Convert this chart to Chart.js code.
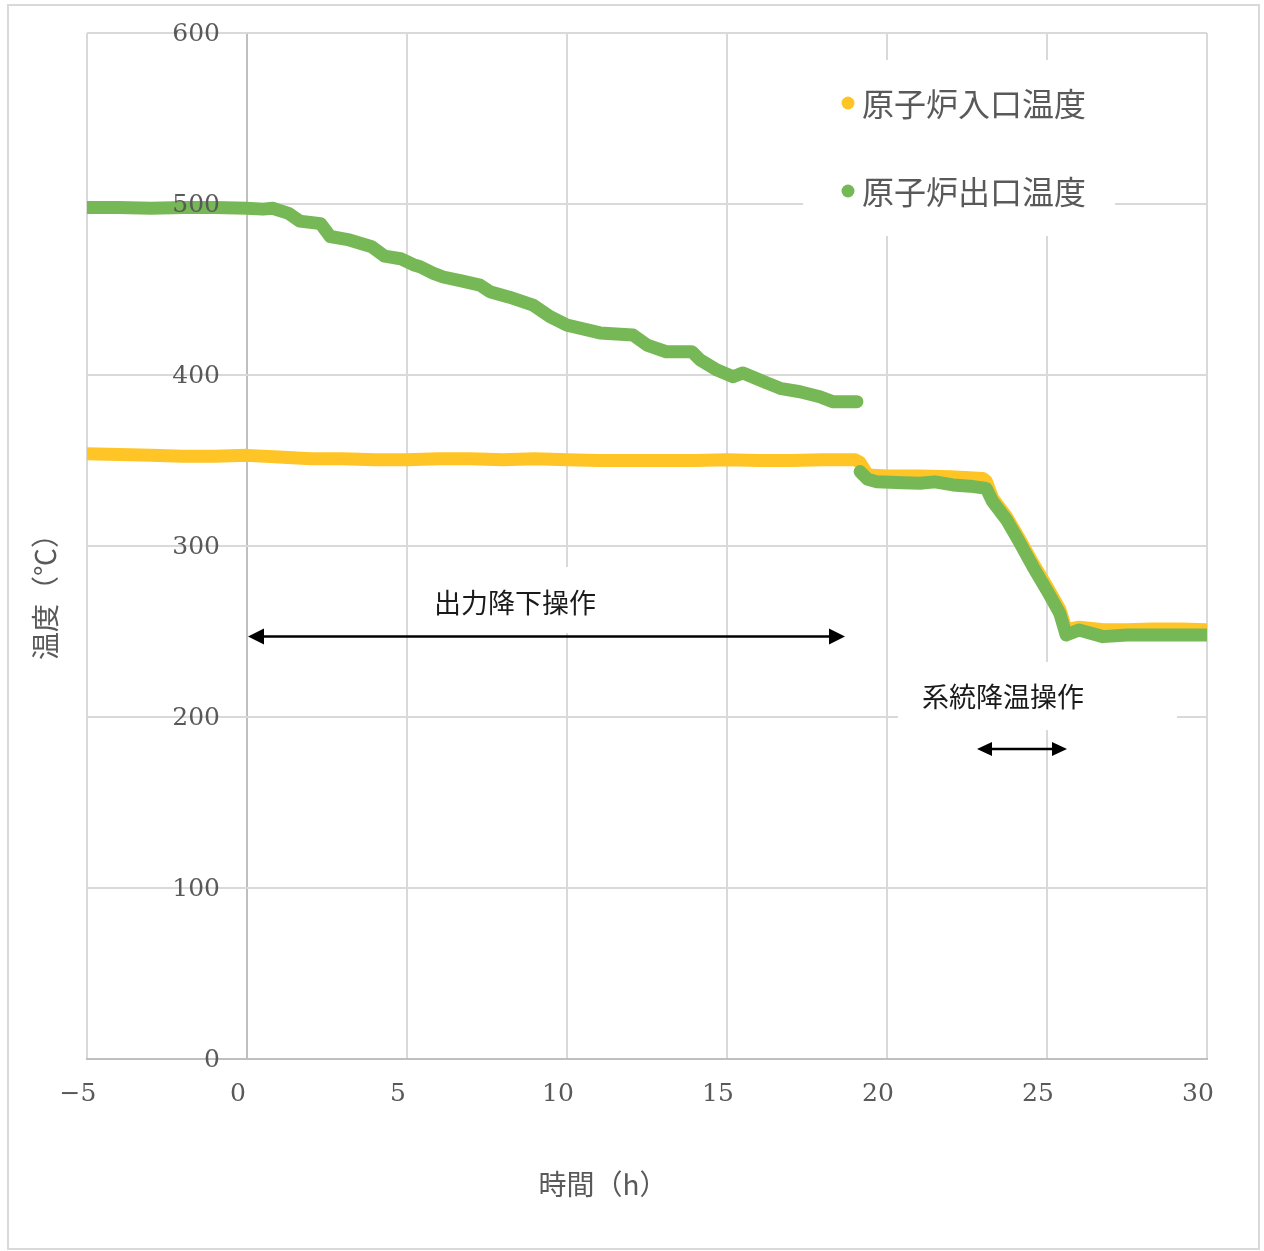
<!DOCTYPE html>
<html>
<head>
<meta charset="utf-8">
<script src="https://cdn.jsdelivr.net/npm/chart.js@4/dist/chart.umd.min.js"></script>
<style>
  html, body { margin: 0; padding: 0; background: #ffffff; }
  #wrap { width: 1264px; height: 1251px; position: relative; }
</style>
</head>
<body>
<div id="wrap"><canvas id="c" width="1264" height="1251"></canvas></div>
<script>
// ---- data ----
const seriesNames = ['原子炉入口温度', '原子炉出口温度'];

const inletTimes = [-5, -4, -3, -2, -1, 0, 1, 2, 3, 4, 5, 6, 7, 8, 9, 10, 11, 12, 13, 14, 15, 16, 17, 18, 19, 19.15, 19.4, 20, 21, 22, 23, 23.1, 23.3, 23.74, 24.16, 24.56, 24.99, 25.4, 25.6, 26, 26.75, 27.5, 28.3, 29.2, 30];
const inletTemps = [354, 353.5, 353, 352.5, 352.5, 353, 352, 351, 351, 350.5, 350.5, 351, 351, 350.5, 351, 350.5, 350, 350, 350, 350, 350.5, 350, 350, 350.5, 350.5, 349, 341.5, 341, 341, 340.5, 339.5, 338, 328, 317, 303.5, 290, 276.5, 263, 251, 252.5, 251, 251, 251.5, 251.5, 251];

const outletTimes = [-5, -4, -3, -2, -1, 0, 0.5, 0.8, 1.3, 1.65, 2.3, 2.6, 3.2, 3.9, 4.3, 4.8, 5.2, 5.41, 5.81, 6.13, 6.7, 7.28, 7.59, 8.2, 8.94, 9.47, 10.0, 10.5, 11.03, 12.06, 12.5, 13.1, 13.9, 14.16, 14.69, 15.19, 15.5, 16.25, 16.7, 17.28, 17.9, 18.3, 19.06, 19.1, 19.16, 19.4, 19.68, 20.5, 21.03, 21.5, 22.06, 22.6, 23.1, 23.3, 23.74, 24.16, 24.56, 24.99, 25.4, 25.6, 26.0, 26.75, 27.5, 28.3, 29.2, 30.0];
const outletTemps = [498, 498, 497.5, 498, 498, 497.5, 497, 497.5, 494.5, 490, 488.5, 481, 479, 475, 469.5, 468, 464.5, 463.3, 459.6, 457.3, 455, 452.6, 448.7, 445.5, 440.9, 434.1, 429.2, 427, 424.6, 423.4, 417.5, 413.6, 413.6, 408.8, 402.9, 399, 401.2, 395.3, 392, 390.2, 387.3, 384.4, 384.4, null, 343.5, 339, 337.6, 337, 336.7, 337.5, 335.7, 335, 333.7, 326, 315.2, 301.6, 287.9, 274.3, 260.6, 247.9, 250.9, 247, 248, 248, 248, 248];

const xTickValues = [-5, 0, 5, 10, 15, 20, 25, 30];
const xTickLabels = ['−5', '0', '5', '10', '15', '20', '25', '30'];
const yTickValues = [0, 100, 200, 300, 400, 500, 600];
const yTickLabels = ['0', '100', '200', '300', '400', '500', '600'];

const xAxisTitle = '時間（h）';
const yAxisTitle = '温度（℃）';
const annotation1 = '出力降下操作';
const annotation2 = '系統降温操作';

const inletColor = '#FFC425';
const outletColor = '#77B856';

function toPoints(xs, ys) {
  return xs.map((x, i) => ({ x: x, y: ys[i] }));
}

const NUM_FONT = '25px "DejaVu Serif", "Liberation Serif", serif';
const JP = '"Noto Sans CJK JP", "Noto Sans", sans-serif';

function arrowHead(ctx, x, y, dir, len, half) {
  ctx.beginPath();
  ctx.moveTo(x, y);
  ctx.lineTo(x - dir * len, y - half);
  ctx.lineTo(x - dir * len, y + half);
  ctx.closePath();
  ctx.fill();
}
function doubleArrow(ctx, x1, x2, y, len, half, lw) {
  ctx.save();
  ctx.strokeStyle = '#000';
  ctx.fillStyle = '#000';
  ctx.lineWidth = lw;
  ctx.beginPath();
  ctx.moveTo(x1 + len - 1, y);
  ctx.lineTo(x2 - len + 1, y);
  ctx.stroke();
  arrowHead(ctx, x1, y, -1, len, half);
  arrowHead(ctx, x2, y, 1, len, half);
  ctx.restore();
}

const decor = {
  id: 'decor',
  beforeDraw(chart) {
    const ctx = chart.ctx;
    ctx.save();
    ctx.fillStyle = '#ffffff';
    ctx.fillRect(0, 0, chart.width, chart.height);
    ctx.strokeStyle = '#d9d9d9';
    ctx.lineWidth = 2;
    ctx.strokeRect(8, 5, 1251, 1244);
    ctx.restore();
  },
  beforeDatasetsDraw(chart) {
    const ctx = chart.ctx;
    const xs = chart.scales.x;
    ctx.save();
    ctx.fillStyle = '#ffffff';
    // legend box
    ctx.fillRect(803, 60, 312, 176);
    // annotation text boxes
    ctx.fillRect(xs.getPixelForValue(5) + 4, 567, 312, 66);
    ctx.fillRect(898, 662, 279, 68);
    ctx.restore();
  },
  afterDatasetsDraw(chart) {
    const ctx = chart.ctx;
    const xs = chart.scales.x, ys = chart.scales.y;
    const x0 = xs.getPixelForValue(0);
    ctx.save();
    // y tick labels (next to the vertical axis at x = 0)
    ctx.font = NUM_FONT;
    ctx.fillStyle = '#595959';
    ctx.textAlign = 'right';
    ctx.textBaseline = 'middle';
    yTickValues.forEach((v, i) => {
      ctx.fillText(yTickLabels[i], x0 - 27, ys.getPixelForValue(v) + 1);
    });
    // x tick labels
    ctx.textAlign = 'center';
    const yb = ys.getPixelForValue(0);
    xTickValues.forEach((v, i) => {
      ctx.fillText(xTickLabels[i], xs.getPixelForValue(v) - 9, yb + 35);
    });
    // axis titles
    ctx.font = '28px ' + JP;
    ctx.fillText(xAxisTitle, 603, 1184);
    ctx.save();
    ctx.translate(45, 590);
    ctx.rotate(-Math.PI / 2);
    ctx.fillText(yAxisTitle, 0, 0);
    ctx.restore();
    // legend
    const legendRows = [
      { name: seriesNames[0], color: inletColor, y: 103 },
      { name: seriesNames[1], color: outletColor, y: 191 }
    ];
    ctx.font = '32px ' + JP;
    ctx.textAlign = 'left';
    legendRows.forEach(r => {
      ctx.fillStyle = r.color;
      ctx.beginPath();
      ctx.arc(848, r.y, 6.5, 0, Math.PI * 2);
      ctx.fill();
      ctx.fillStyle = '#595959';
      ctx.fillText(r.name, 862, r.y + 1);
    });
    // annotations
    ctx.fillStyle = '#1a1a1a';
    ctx.font = '27px ' + JP;
    ctx.textAlign = 'center';
    ctx.fillText(annotation1, 515, 603);
    ctx.fillText(annotation2, 1003, 697);
    doubleArrow(ctx, x0 + 1, 845, 636.5, 16, 8, 2.5);
    doubleArrow(ctx, 977, 1067, 749, 15, 7, 2.5);
    ctx.restore();
  }
};

new Chart(document.getElementById('c'), {
  type: 'scatter',
  data: {
    datasets: [
      {
        label: seriesNames[0],
        data: toPoints(inletTimes, inletTemps),
        showLine: true,
        borderColor: inletColor,
        backgroundColor: inletColor,
        borderWidth: 13,
        borderCapStyle: 'round',
        borderJoinStyle: 'round',
        pointRadius: 0,
        spanGaps: false,
        order: 2
      },
      {
        label: seriesNames[1],
        data: toPoints(outletTimes, outletTemps),
        showLine: true,
        borderColor: outletColor,
        backgroundColor: outletColor,
        borderWidth: 13,
        borderCapStyle: 'round',
        borderJoinStyle: 'round',
        pointRadius: 0,
        spanGaps: false,
        order: 1
      }
    ]
  },
  options: {
    responsive: false,
    animation: false,
    layout: { padding: { left: 87, right: 57, top: 33, bottom: 192 } },
    plugins: { legend: { display: false }, tooltip: { enabled: false } },
    scales: {
      x: {
        type: 'linear',
        min: -5, max: 30,
        afterBuildTicks: (s) => { s.ticks = xTickValues.map(v => ({ value: v })); },
        ticks: { display: false },
        grid: {
          drawTicks: false,
          lineWidth: 2,
          color: (c) => (c.tick && c.tick.value === 0) ? '#bfbfbf' : '#d9d9d9'
        },
        border: { display: true, color: '#bfbfbf', width: 2 }
      },
      y: {
        type: 'linear',
        min: 0, max: 600,
        afterBuildTicks: (s) => { s.ticks = yTickValues.map(v => ({ value: v })); },
        ticks: { display: false },
        grid: {
          drawTicks: false,
          lineWidth: 2,
          color: (c) => (c.tick && c.tick.value === 0) ? '#bfbfbf' : '#d9d9d9'
        },
        border: { display: false }
      }
    }
  },
  plugins: [decor]
});
</script>
</body>
</html>
